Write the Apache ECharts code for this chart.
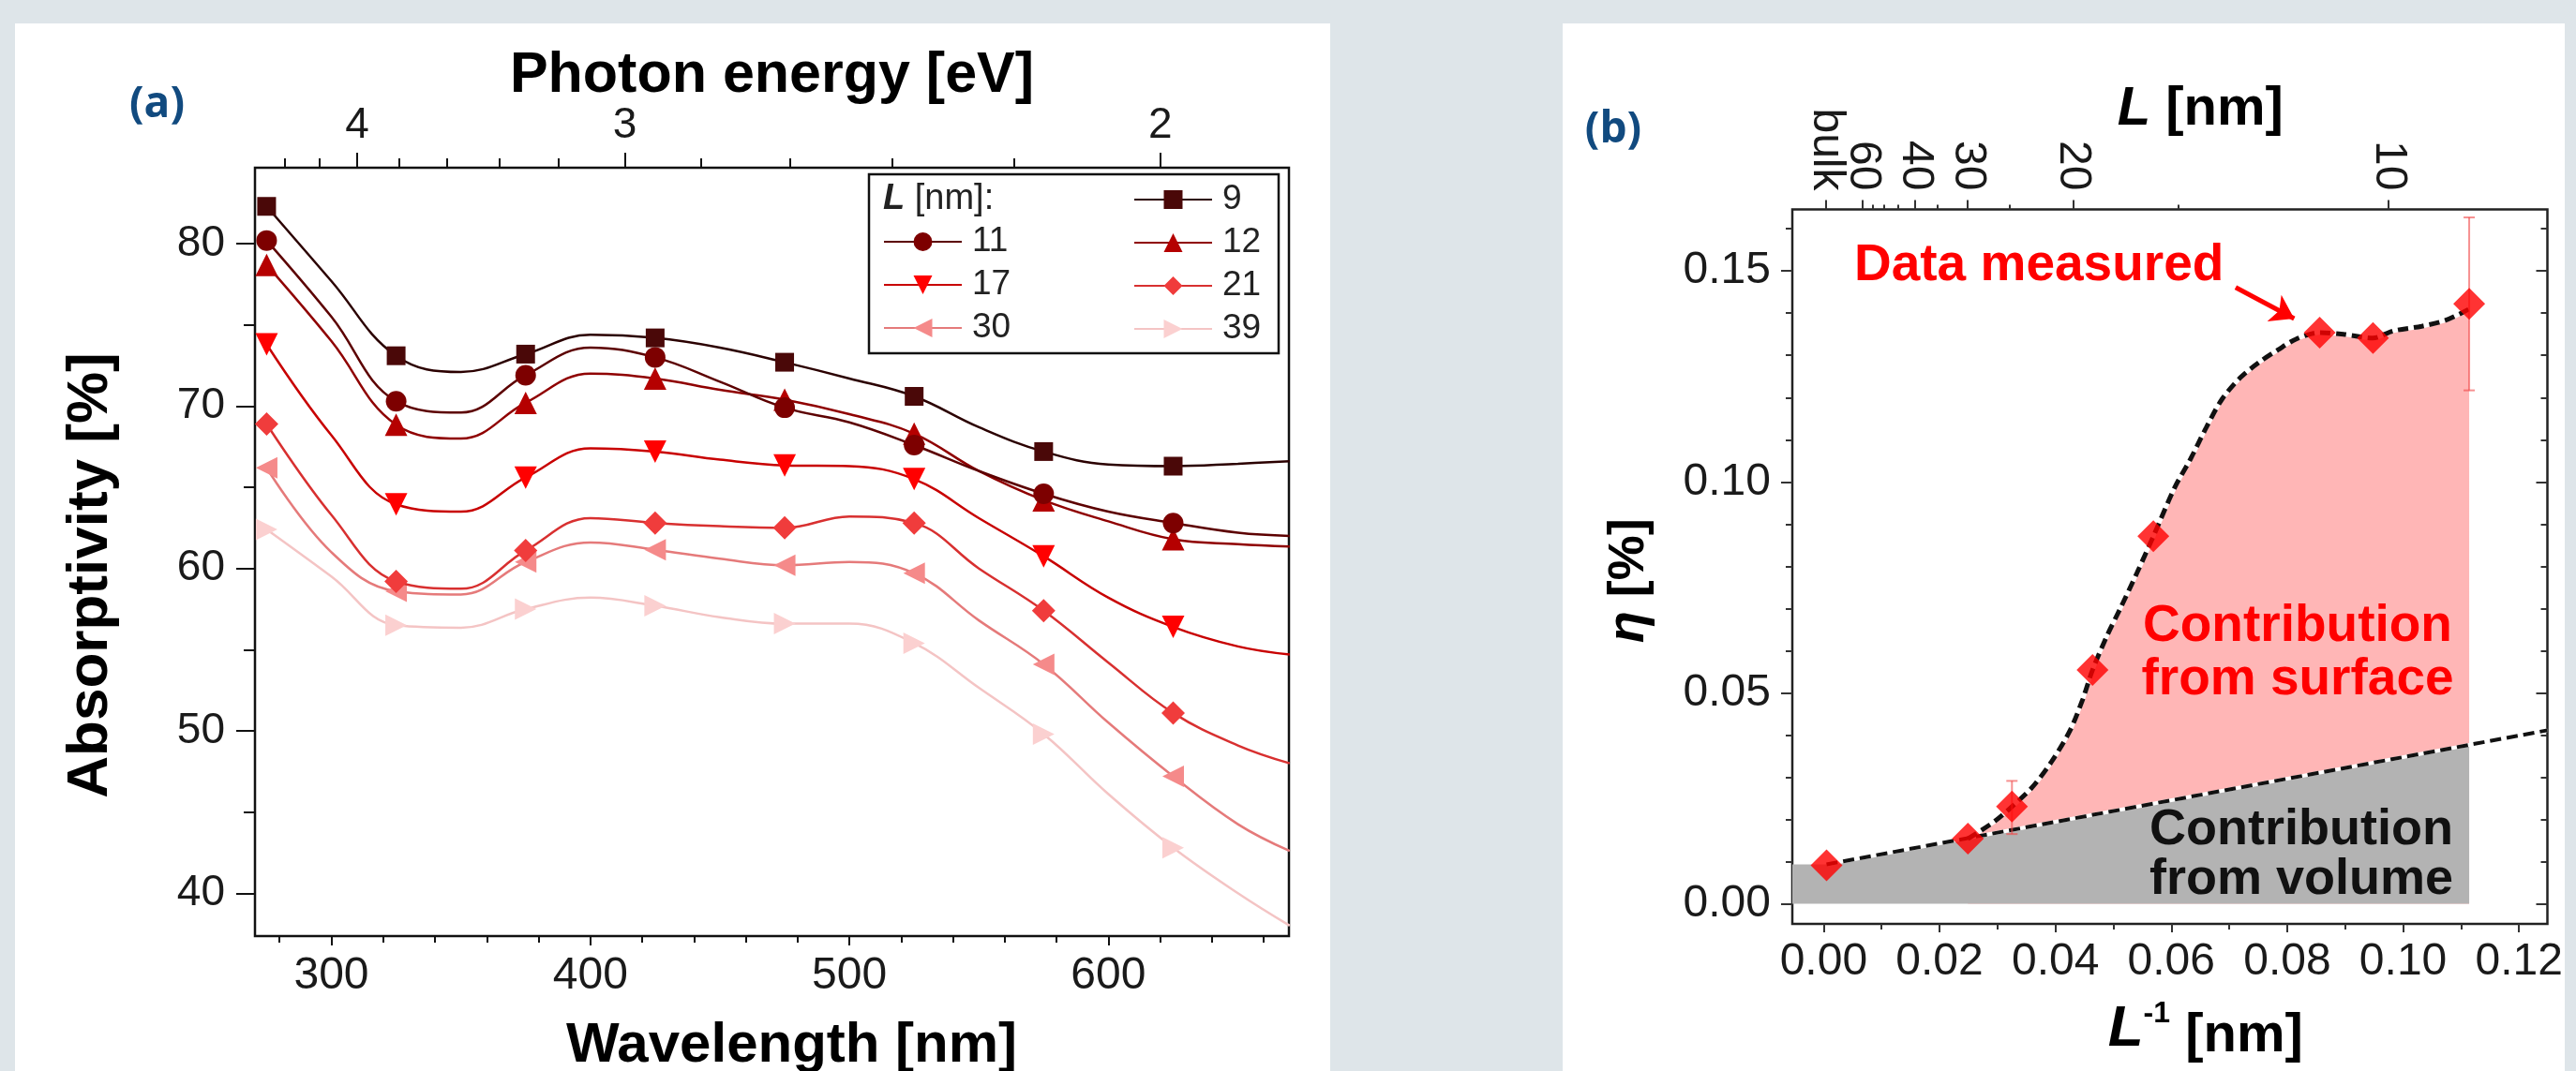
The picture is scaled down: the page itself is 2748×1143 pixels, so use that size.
<!DOCTYPE html>
<html>
<head>
<meta charset="utf-8">
<title>Absorptivity spectra and eta vs 1/L</title>
<script src="https://cdn.jsdelivr.net/npm/echarts@6/dist/echarts.min.js"></script>
<style>
  html, body { margin: 0; padding: 0; background: #dee5e9; }
  #chart { width: 2748px; height: 1143px; }
</style>
</head>
<body>
<div id="chart"></div>
<script>
// ---- panel (a): absorptivity spectra, one curve per film thickness L ----
const wavelength = [275, 300, 325, 350, 375, 400, 425, 450, 475, 500, 525, 550, 575, 600, 625, 650, 670]
const markerWavelength = [275, 325, 375, 425, 475, 525, 575, 625]
const abs9 = [82.3, 77.7, 73.1, 72.1, 73.2, 74.4, 74.2, 73.6, 72.7, 71.7, 70.6, 68.7, 67.2, 66.4, 66.3, 66.45, 66.6]
const abs11 = [80.2, 75.5, 70.3, 69.6, 71.9, 73.6, 73.0, 71.5, 69.9, 69.0, 67.6, 66.0, 64.6, 63.5, 62.8, 62.2, 62.0]
const abs12 = [78.7, 74.0, 68.85, 68.0, 70.2, 72.0, 71.7, 71.0, 70.4, 69.5, 68.3, 66.0, 64.2, 62.9, 61.8, 61.5, 61.35]
const abs17 = [73.8, 68.2, 63.95, 63.5, 65.6, 67.4, 67.2, 66.7, 66.35, 66.3, 65.5, 63.1, 60.75, 58.2, 56.4, 55.2, 54.7]
const abs21 = [68.9, 63.3, 59.2, 58.75, 61.1, 63.1, 62.8, 62.6, 62.5, 63.2, 62.8, 60.0, 57.4, 54.2, 51.1, 49.1, 48.0]
const abs30 = [66.2, 61.0, 58.6, 58.4, 60.4, 61.6, 61.15, 60.6, 60.2, 60.4, 59.7, 56.8, 54.1, 50.5, 47.2, 44.25, 42.6]
const abs39 = [62.4, 59.5, 56.5, 56.35, 57.5, 58.2, 57.7, 57.0, 56.6, 56.6, 55.4, 52.65, 49.8, 46.1, 42.8, 40.0, 38.0]

const thicknessNames = ['9', '11', '12', '17', '21', '30', '39']
const wavelengthTicks = [300, 400, 500, 600]
const wavelengthMinorTicks = [280, 320, 340, 360, 380, 420, 440, 460, 480, 520, 540, 560, 580, 620, 640, 660]
const energyTicks = [4, 3, 2]
const energyMinorTicks = [4.4, 4.2, 3.8, 3.6, 3.4, 3.2, 2.8, 2.6, 2.4, 2.2]
const absTicks = [40, 50, 60, 70, 80]
const absMinorTicks = [45, 55, 65, 75]

// ---- panel (b): eta vs inverse thickness ----
const invL = [0.0005, 0.0249, 0.0325, 0.0464, 0.0569, 0.0856, 0.0948, 0.1114]
const eta = [0.0091, 0.0154, 0.0230, 0.0554, 0.0871, 0.1354, 0.1341, 0.1422]
const errInvL = [0.0325, 0.1114]
const errLow = [0.0165, 0.1217]
const errHigh = [0.0291, 0.1627]
// dashed curve through the measurements
const fitInvL = [0.0249, 0.0295, 0.0325, 0.0360, 0.0393, 0.0425, 0.0447, 0.0464, 0.0489, 0.0512, 0.0541, 0.0569,
  0.0606, 0.0633, 0.0660, 0.0687, 0.0719, 0.0752, 0.0784, 0.0816, 0.0856, 0.0897, 0.0948, 0.0983, 0.1032, 0.1075, 0.1114]
const fitEta = [0.0154, 0.0195, 0.0230, 0.0276, 0.0336, 0.0410, 0.0484, 0.0554, 0.0635, 0.0700, 0.0785, 0.0871,
  0.0987, 0.1054, 0.1128, 0.1195, 0.1247, 0.1284, 0.1313, 0.1339, 0.1354, 0.1350, 0.1341, 0.1358, 0.1369, 0.1384, 0.1410]
// dashed straight line (volume contribution) and grey region under it
const volumeInvL = [0.0005, 0.1249]
const volumeEta = [0.0093, 0.0411]
const greyInvL = [-0.0054, 0.0005, 0.1114]
const greyEta = [0.0093, 0.0093, 0.0377]

const invLTicks = [0, 0.02, 0.04, 0.06, 0.08, 0.10, 0.12]
const invLMinorTicks = [0.01, 0.03, 0.05, 0.07, 0.09, 0.11]
const etaTicks = [0, 0.05, 0.10, 0.15]
const etaMinorTicks = [0.01, 0.02, 0.03, 0.04, 0.06, 0.07, 0.08, 0.09, 0.11, 0.12, 0.13, 0.14, 0.16]
const lTicks = [60, 40, 30, 20, 10]
const lMinorTicks = [55, 50, 45, 35, 25, 15]
const bulkPos = 0.0004
// the top L axis of the original figure is shifted against the bottom one
const topShift = -0.0114
const topScale = 1.0885
const HC = 1240

const font = "'Liberation Sans', Arial, sans-serif"
const topLPos = lTicks.map(l => topShift + topScale / l)
const topLMinorPos = lMinorTicks.map(l => topShift + topScale / l)

const chart = echarts.init(document.getElementById('chart'))

function tickAxis(o) {
  const ax = {
    type: 'value',
    gridIndex: o.grid,
    position: o.position,
    min: o.min,
    max: o.max,
    nameMoveOverlap: false,
    axisLine: { show: false, onZero: false },
    splitLine: { show: false },
    axisTick: {
      show: true,
      inside: !!o.inside,
      length: o.len,
      customValues: o.ticks,
      lineStyle: { color: o.tickColor || '#111', width: 2 }
    },
    axisLabel: { show: false }
  }
  if (o.label) {
    ax.axisLabel = Object.assign({
      show: true,
      customValues: o.ticks,
      hideOverlap: false,
      interval: 0,
      color: '#1a1a1a',
      fontFamily: font
    }, o.label)
  }
  if (o.name) {
    ax.name = o.name
    ax.nameLocation = 'middle'
    ax.nameGap = o.nameGap
    ax.nameTextStyle = Object.assign({ color: '#000', fontFamily: font, fontWeight: 'bold' }, o.nameStyle)
  }
  return ax
}

const absData = [abs9, abs11, abs12, abs17, abs21, abs30, abs39]
const symbols = ['rect', 'circle', 'triangle', 'triangle', 'diamond', 'triangle', 'triangle']
const rotations = [0, 0, 0, 180, 0, 90, -90]
const sizes = [20, 22, 24, 24, 25, 23, 23]
const markerColors = ['#4a0808', '#7d0000', '#b50000', '#ff0000', '#f03c3c', '#f58a8a', '#fbd0d0']
const lineColors = ['#2b0000', '#5c0000', '#8f0000', '#c80000', '#d83030', '#e57a7a', '#f4c4c4']

const spectraSeries = thicknessNames.map((name, i) => ({
  name: name,
  type: 'line',
  xAxisIndex: 0,
  yAxisIndex: 0,
  data: wavelength.map((w, j) => [w, absData[i][j]]),
  smooth: 0.4,
  showSymbol: true,
  showAllSymbol: true,
  symbol: symbols[i],
  symbolRotate: rotations[i],
  symbolSize: v => (markerWavelength.indexOf(v[0]) >= 0 ? sizes[i] : 0),
  lineStyle: { color: lineColors[i], width: 2.5 },
  itemStyle: { color: markerColors[i] },
  z: 10 - i
}))

const pairs = (xs, ys) => xs.map((x, i) => [x, ys[i]])

const etaSeries = [
  {
    type: 'line', xAxisIndex: 4, yAxisIndex: 2,
    data: pairs(fitInvL, fitEta), smooth: 0.3, symbol: 'none',
    lineStyle: { width: 0 }, areaStyle: { color: '#ffb6b6', opacity: 1 }, z: 1
  },
  {
    type: 'line', xAxisIndex: 4, yAxisIndex: 2,
    data: pairs(greyInvL, greyEta), symbol: 'none',
    lineStyle: { width: 0 }, areaStyle: { color: '#b3b3b3', opacity: 1 }, z: 2
  },
  {
    type: 'line', xAxisIndex: 4, yAxisIndex: 2,
    data: pairs(volumeInvL, volumeEta), symbol: 'none',
    lineStyle: { color: '#ffffff', width: 4 }, z: 3
  },
  {
    type: 'line', xAxisIndex: 4, yAxisIndex: 2,
    data: pairs(volumeInvL, volumeEta), symbol: 'none',
    lineStyle: { color: '#111', width: 4, type: [12, 6] }, z: 4
  },
  {
    type: 'line', xAxisIndex: 4, yAxisIndex: 2,
    data: pairs(fitInvL, fitEta), smooth: 0.3, symbol: 'none',
    lineStyle: { color: '#ffffff', width: 4.5 }, z: 3
  },
  {
    type: 'line', xAxisIndex: 4, yAxisIndex: 2,
    data: pairs(fitInvL, fitEta), smooth: 0.3, symbol: 'none',
    lineStyle: { color: '#111', width: 5, type: [11, 6] }, z: 4
  },
  {
    type: 'custom', xAxisIndex: 4, yAxisIndex: 2,
    data: errInvL.map((x, i) => [x, errLow[i], errHigh[i]]),
    encode: { x: 0, y: [1, 2] },
    renderItem: function (params, api) {
      const lo = api.coord([api.value(0), api.value(1)])
      const hi = api.coord([api.value(0), api.value(2)])
      const st = { stroke: 'rgba(240,70,70,0.6)', lineWidth: 2 }
      return {
        type: 'group',
        children: [
          { type: 'line', shape: { x1: lo[0], y1: lo[1], x2: hi[0], y2: hi[1] }, style: st },
          { type: 'line', shape: { x1: hi[0] - 6, y1: hi[1], x2: hi[0] + 6, y2: hi[1] }, style: st },
          { type: 'line', shape: { x1: lo[0] - 6, y1: lo[1], x2: lo[0] + 6, y2: lo[1] }, style: st }
        ]
      }
    },
    z: 5
  },
  {
    type: 'scatter', xAxisIndex: 4, yAxisIndex: 2,
    data: pairs(invL, eta), symbol: 'diamond', symbolSize: 34,
    itemStyle: { color: '#ff0000' }, z: 6,
    markLine: {
      silent: true,
      symbol: ['none', 'arrow'],
      symbolSize: [24, 24],
      label: { show: false },
      lineStyle: { color: '#ff0000', width: 5, type: 'solid' },
      data: [[{ coord: [0.0711, 0.1461] }, { coord: [0.0812, 0.1387] }]]
    }
  }
]

const topLabelStyle = { fontSize: 48, lineHeight: 32, margin: 20, rotate: 90 }

const option = {
  animation: false,
  backgroundColor: '#dee5e9',
  grid: [
    { left: 272, top: 179, width: 1103, height: 820, show: true, borderColor: '#111', borderWidth: 2.5,
      backgroundColor: 'transparent', containLabel: false, outerBoundsMode: 'none' },
    { left: 1912, top: 223.5, width: 805.5, height: 762.5, show: true, borderColor: '#222', borderWidth: 2.5,
      backgroundColor: 'transparent', containLabel: false, outerBoundsMode: 'none' }
  ],
  legend: [
    {
      data: ['11', '17', '30'], orient: 'vertical', left: 942, top: 238, padding: 0,
      itemWidth: 83, itemHeight: 25, itemGap: 6, selectedMode: false,
      textStyle: { fontFamily: font, fontSize: 37, lineHeight: 40, color: '#222', padding: [0, 0, 0, 6] }
    },
    {
      data: ['9', '12', '21', '39'], orient: 'vertical', left: 1209, top: 193, padding: 0,
      itemWidth: 83, itemHeight: 25, itemGap: 6, selectedMode: false,
      textStyle: { fontFamily: font, fontSize: 37, lineHeight: 40, color: '#222', padding: [0, 0, 0, 6] }
    }
  ],
  xAxis: [
    tickAxis({ grid: 0, position: 'bottom', min: 270.5, max: 669.7, ticks: wavelengthTicks, len: 10,
      label: { fontSize: 48, margin: 19 },
      name: 'Wavelength [nm]', nameGap: 87, nameStyle: { fontSize: 60, padding: [0, 0, 0, 42] } }),
    tickAxis({ grid: 0, position: 'bottom', min: 270.5, max: 669.7, ticks: wavelengthMinorTicks, len: 7 }),
    tickAxis({ grid: 0, position: 'top', min: 270.5, max: 669.7, ticks: energyTicks.map(e => HC / e), len: 16,
      label: { fontSize: 46, margin: 22, formatter: v => String(Math.round(HC / v)) },
      name: 'Photon energy [eV]', nameGap: 67, nameStyle: { fontSize: 61 } }),
    tickAxis({ grid: 0, position: 'top', min: 270.5, max: 669.7, ticks: energyMinorTicks.map(e => HC / e), len: 10 }),
    tickAxis({ grid: 1, position: 'bottom', min: -0.0054, max: 0.1249, ticks: invLTicks, len: 9, tickColor: '#333',
      label: { fontSize: 48, margin: 17, formatter: v => v.toFixed(2) },
      name: '{i|L}{s|-1} {n|[nm]}', nameGap: 80,
      nameStyle: {
        fontSize: 58, padding: [0, 0, 0, 76],
        rich: {
          i: { fontSize: 62, fontStyle: 'italic', fontWeight: 'bold', fontFamily: font, color: '#000', lineHeight: 66 },
          s: { fontSize: 32, fontWeight: 'bold', fontFamily: font, color: '#000', verticalAlign: 'top', lineHeight: 66 },
          n: { fontSize: 58, fontWeight: 'bold', fontFamily: font, color: '#000', lineHeight: 66, padding: [14, 0, 0, 0] }
        }
      } }),
    tickAxis({ grid: 1, position: 'bottom', min: -0.0054, max: 0.1249, ticks: invLMinorTicks, len: 6, tickColor: '#333' }),
    tickAxis({ grid: 1, position: 'top', min: -0.0054, max: 0.1249, ticks: topLPos, len: 10, tickColor: '#333',
      label: Object.assign({
        formatter: v => {
          let k = 0
          topLPos.forEach((p, i) => { if (Math.abs(p - v) < Math.abs(topLPos[k] - v)) k = i })
          return String(lTicks[k])
        }
      }, topLabelStyle),
      name: '{i|L} [nm]', nameGap: 78,
      nameStyle: {
        fontSize: 58, padding: [0, 0, 0, 65],
        rich: { i: { fontSize: 58, fontStyle: 'italic', fontWeight: 'bold', fontFamily: font, color: '#000' } }
      } }),
    tickAxis({ grid: 1, position: 'top', min: -0.0054, max: 0.1249, ticks: topLMinorPos, len: 5, tickColor: '#333' }),
    tickAxis({ grid: 1, position: 'top', min: -0.0054, max: 0.1249, ticks: [bulkPos], len: 10, tickColor: '#333',
      label: Object.assign({ formatter: () => 'bulk' }, topLabelStyle) })
  ],
  yAxis: [
    tickAxis({ grid: 0, position: 'left', min: 37.36, max: 84.68, ticks: absTicks, len: 20,
      label: { fontSize: 46, margin: 32 },
      name: 'Absorptivity [%]', nameGap: 144, nameStyle: { fontSize: 62, padding: [0, 50, 0, 0] } }),
    tickAxis({ grid: 0, position: 'left', min: 37.36, max: 84.68, ticks: absMinorTicks, len: 12 }),
    tickAxis({ grid: 1, position: 'left', min: -0.0048, max: 0.1646, ticks: etaTicks, len: 12, tickColor: '#333',
      label: { fontSize: 48, margin: 23, formatter: v => v.toFixed(2) },
      name: '{i|η} [%]', nameGap: 146,
      nameStyle: {
        fontSize: 54, padding: [0, 30, 0, 0],
        rich: { i: { fontSize: 56, fontStyle: 'italic', fontWeight: 'bold', fontFamily: font, color: '#000' } }
      } }),
    tickAxis({ grid: 1, position: 'left', min: -0.0048, max: 0.1646, ticks: etaMinorTicks, len: 7, tickColor: '#333' }),
    tickAxis({ grid: 1, position: 'right', min: -0.0048, max: 0.1646, ticks: etaTicks, len: 12, inside: true, tickColor: '#333' }),
    tickAxis({ grid: 1, position: 'right', min: -0.0048, max: 0.1646, ticks: etaMinorTicks, len: 7, inside: true, tickColor: '#333' })
  ],
  graphic: [
    { type: 'rect', z: -10, shape: { x: 16, y: 25, width: 1403, height: 1118 }, style: { fill: '#ffffff' } },
    { type: 'rect', z: -10, shape: { x: 1667, y: 25, width: 1069, height: 1118 }, style: { fill: '#ffffff' } },
    { type: 'rect', z: 100, shape: { x: 2736, y: 25, width: 12, height: 1118 }, style: { fill: '#dee5e9' } },
    { type: 'rect', z: 1, shape: { x: 927, y: 186, width: 437, height: 191 },
      style: { fill: '#ffffff', stroke: '#111', lineWidth: 2.5 } },
    { type: 'text', z: 20, x: 942, y: 213,
      style: {
        text: '{i|L} [nm]:', fontSize: 38, fontFamily: font, fill: '#222', align: 'left', verticalAlign: 'middle',
        rich: { i: { fontSize: 38, fontStyle: 'italic', fontWeight: 'bold', fontFamily: font, fill: '#222' } }
      } },
    { type: 'text', z: 20, x: 167.5, y: 112,
      style: { text: '(a)', fontSize: 46, fontWeight: 'bold', fontFamily: "'Open Sans', sans-serif",
        fill: '#114a7f', align: 'center', verticalAlign: 'middle' } },
    { type: 'text', z: 20, x: 1721, y: 139,
      style: { text: '(b)', fontSize: 46, fontWeight: 'bold', fontFamily: "'Open Sans', sans-serif",
        fill: '#114a7f', align: 'center', verticalAlign: 'middle' } },
    { type: 'text', z: 20, x: 1978, y: 284,
      style: { text: 'Data measured', fontSize: 55, fontWeight: 'bold', fontFamily: font,
        fill: '#ff0000', align: 'left', verticalAlign: 'middle' } },
    { type: 'text', z: 20, x: 2451, y: 697,
      style: { text: 'Contribution\nfrom surface', fontSize: 55, lineHeight: 57, fontWeight: 'bold', fontFamily: font,
        fill: '#ff0000', align: 'center', verticalAlign: 'middle' } },
    { type: 'text', z: 20, x: 2455, y: 913,
      style: { text: 'Contribution\nfrom volume', fontSize: 54, lineHeight: 53, fontWeight: 'bold', fontFamily: font,
        fill: '#111', align: 'center', verticalAlign: 'middle' } }
  ],
  series: spectraSeries.concat(etaSeries)
}

chart.setOption(option)
</script>
</body>
</html>
